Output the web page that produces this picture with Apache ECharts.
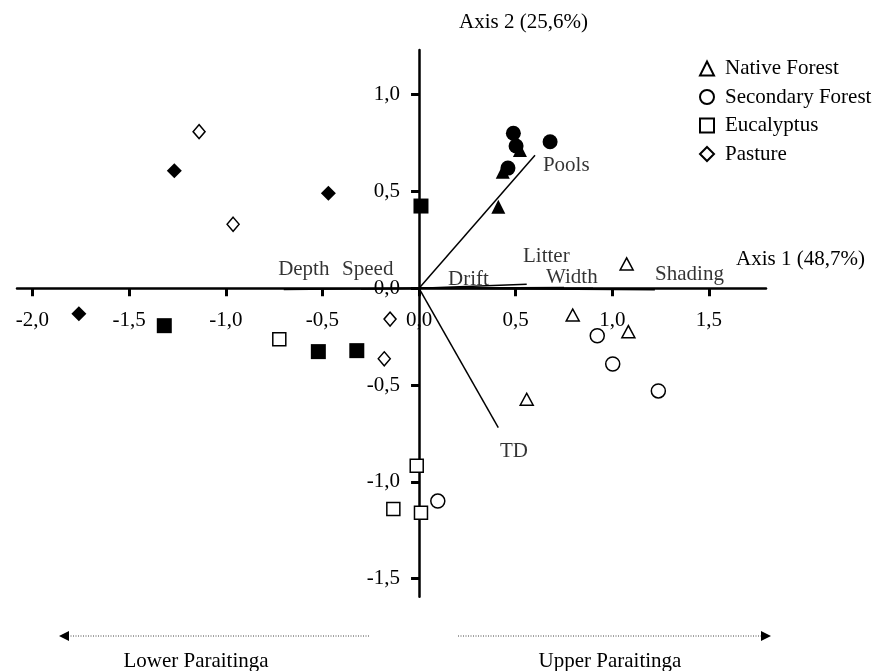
<!DOCTYPE html>
<html><head><meta charset="utf-8">
<script src="https://cdn.jsdelivr.net/npm/echarts@6/dist/echarts.min.js"></script>
<style>html,body{margin:0;padding:0;background:#fff}#c{width:894px;height:671px}</style>
</head><body><div id="c"></div>
<script>
const FONT = "'Liberation Serif','Times New Roman',serif";
const xTicks = [-2, -1.5, -1, -0.5, 0, 0.5, 1, 1.5];
const yTicks = [-1.5, -1, -0.5, 0, 0.5, 1];
const groups = ['Native Forest', 'Secondary Forest', 'Eucalyptus', 'Pasture'];
const symbols = ['triangle', 'circle', 'rect', 'diamond'];

// open (hollow) markers
const nativeOpen = [[1.074, 0.126], [0.795, -0.138], [1.083, -0.224], [0.557, -0.573]];
const secondaryOpen = [[0.922, -0.245], [1.002, -0.391], [1.238, -0.530], [0.097, -1.099]];
const eucalyptusOpen = [[-0.723, -0.263], [-0.012, -0.916], [-0.133, -1.140], [0.010, -1.159]];
const pastureOpen = [[-1.138, 0.809], [-0.962, 0.331], [-0.150, -0.159], [-0.180, -0.364]];
// filled markers
const nativeFilled = [[0.522, 0.714], [0.433, 0.602], [0.410, 0.421]];
const secondaryFilled = [[0.488, 0.801], [0.678, 0.757], [0.502, 0.735], [0.460, 0.621]];
const eucalyptusFilled = [[0.010, 0.425], [-1.318, -0.193], [-0.521, -0.327], [-0.322, -0.322]];
const pastureFilled = [[-1.266, 0.607], [-0.469, 0.491], [-1.760, -0.131]];

// environmental vectors
const vectorNames = ['Pools', 'TD', 'Drift', 'Litter', 'Width', 'Shading', 'Depth', 'Speed'];
const vectorEnds = [[0.600, 0.687], [0.410, -0.720], [0.557, 0.021], [0.75, 0.004], [0.90, 0.0], [1.22, -0.008], [-0.70, -0.006], [-0.30, -0.003]];
const vectorLabelAnchors = [[0.641, 0.637], [0.419, -0.845], [0.150, 0.048], [0.538, 0.162], [0.657, 0.058], [1.221, 0.074], [-0.729, 0.098], [-0.398, 0.095]];

const openData = [nativeOpen, secondaryOpen, eucalyptusOpen, pastureOpen];
const filledData = [nativeFilled, secondaryFilled, eucalyptusFilled, pastureFilled];
const openSizes = [[13, 12], 14, 13, [12, 14]];
const filledSizes = [[14, 14], 15, 15, [15, 15]];

const X_MIN = -2.08, X_MAX = 1.795, Y_MIN = -1.593, Y_MAX = 1.231;
const G = { left: 17, right: 128, top: 50, bottom: 74.3 };
const W = 894 - G.left - G.right, H = 671 - G.top - G.bottom;
const xZeroOffset = -(0 - X_MIN) / (X_MAX - X_MIN) * W;   // move y axis from left edge to x=0
const yZeroOffset = -(0 - Y_MIN) / (Y_MAX - Y_MIN) * H;   // move x axis from bottom edge to y=0

const fmt = v => (Math.abs(v) < 1e-9 ? 0 : v).toFixed(1).replace('.', ',');

const series = [];
vectorNames.forEach((n, i) => {
  series.push({
    type: 'line', name: 'vec-' + n, data: [[0, 0], vectorEnds[i]],
    showSymbol: false, symbol: 'none', silent: true, z: 1,
    lineStyle: { color: '#000', width: 1.5 }
  });
});
series.push({
  type: 'scatter', name: 'vector labels', symbolSize: 0, silent: true, z: 5,
  data: vectorLabelAnchors.map((p, i) => ({ value: p, name: vectorNames[i] })),
  label: { show: true, position: 'right', distance: 0, formatter: p => p.name,
    color: '#000', fontFamily: FONT, fontSize: 21 }
});
groups.forEach((g, i) => {
  series.push({
    type: 'scatter', name: g, symbol: symbols[i], symbolSize: openSizes[i], z: 3,
    data: openData[i],
    itemStyle: { color: '#fff', borderColor: '#000', borderWidth: 1.5, opacity: 1 }
  });
  series.push({
    type: 'scatter', name: g + ' (filled)', symbol: symbols[i], symbolSize: filledSizes[i], z: 3,
    data: filledData[i],
    itemStyle: { color: '#000', borderColor: '#000', borderWidth: 0, opacity: 1 }
  });
});

const chart = echarts.init(document.getElementById('c'), null, { renderer: 'canvas' });
chart.setOption({
  animation: false,
  backgroundColor: '#fff',
  textStyle: { fontFamily: FONT },
  title: [
    { text: 'Axis 2 (25,6%)', left: 459, top: 12, padding: 0,
      textStyle: { fontFamily: FONT, fontSize: 21, fontWeight: 'normal', color: '#000' } },
    { text: 'Axis 1 (48,7%)', left: 736, top: 249, padding: 0,
      textStyle: { fontFamily: FONT, fontSize: 21, fontWeight: 'normal', color: '#000' } }
  ],
  legend: {
    data: groups, orient: 'vertical', left: 699, top: 58, padding: 0,
    itemWidth: 14, itemHeight: 14, itemGap: 7.5,
    textStyle: { fontFamily: FONT, fontSize: 21, color: '#000', lineHeight: 20, padding: [0, 0, 0, 6] }
  },
  grid: { left: G.left, right: G.right, top: G.top, bottom: G.bottom, containLabel: false, outerBoundsMode: 'none' },
  xAxis: {
    type: 'value', min: X_MIN, max: X_MAX, position: 'bottom', offset: yZeroOffset,
    axisLine: { onZero: false, lineStyle: { color: '#000', width: 2.5 } },
    axisTick: { show: true, customValues: xTicks, length: 8, lineStyle: { color: '#000', width: 3 } },
    axisLabel: { customValues: xTicks, formatter: fmt, margin: 22, color: '#000', fontFamily: FONT, fontSize: 21 },
    splitLine: { show: false }
  },
  yAxis: {
    type: 'value', min: Y_MIN, max: Y_MAX, position: 'left', offset: xZeroOffset,
    axisLine: { onZero: false, lineStyle: { color: '#000', width: 2.5 } },
    axisTick: { show: true, customValues: yTicks, length: 8, lineStyle: { color: '#000', width: 3 } },
    axisLabel: { customValues: yTicks, formatter: fmt, margin: 19, color: '#000', fontFamily: FONT, fontSize: 21 },
    splitLine: { show: false }
  },
  graphic: [
    { type: 'line', shape: { x1: 68, y1: 636, x2: 370, y2: 636 }, style: { stroke: '#444', lineWidth: 1, lineDash: [1, 1.5] } },
    { type: 'polygon', shape: { points: [[59, 636], [69, 631], [69, 641]] }, style: { fill: '#000' } },
    { type: 'line', shape: { x1: 458, y1: 636, x2: 762, y2: 636 }, style: { stroke: '#444', lineWidth: 1, lineDash: [1, 1.5] } },
    { type: 'polygon', shape: { points: [[771, 636], [761, 631], [761, 641]] }, style: { fill: '#000' } },
    { type: 'text', style: { text: 'Lower Paraitinga', x: 196, y: 661, align: 'center', verticalAlign: 'middle', fill: '#000', font: '21px ' + FONT } },
    { type: 'text', style: { text: 'Upper Paraitinga', x: 610, y: 661, align: 'center', verticalAlign: 'middle', fill: '#000', font: '21px ' + FONT } }
  ],
  series: series
});
</script>
</body></html>
